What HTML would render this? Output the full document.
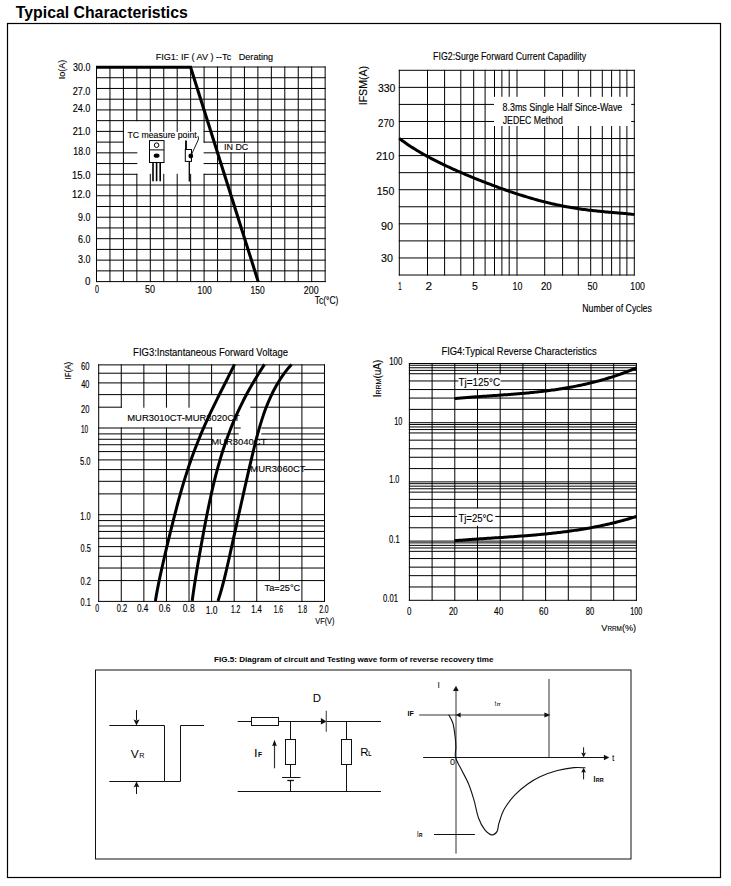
<!DOCTYPE html>
<html><head><meta charset="utf-8"><style>
html,body{margin:0;padding:0;background:#fff;width:731px;height:886px;overflow:hidden}
svg{display:block;font-family:"Liberation Sans",sans-serif}
</style></head><body>
<svg width="731" height="886" viewBox="0 0 731 886">
<rect width="731" height="886" fill="#fff"/>
<text transform="translate(15.82,17.80) scale(0.9888,1)" font-size="16" font-weight="bold" fill="#000" style="white-space:pre">Typical Characteristics</text>
<rect x="7.50" y="23.50" width="713.00" height="854.00" fill="none" stroke="#000" stroke-width="1.2"/>
<line x1="96.00" y1="67.00" x2="325.65" y2="67.00" stroke="#000" stroke-width="1"/>
<line x1="96.00" y1="77.73" x2="325.65" y2="77.73" stroke="#000" stroke-width="1"/>
<line x1="96.00" y1="88.46" x2="325.65" y2="88.46" stroke="#000" stroke-width="1"/>
<line x1="96.00" y1="99.19" x2="325.65" y2="99.19" stroke="#000" stroke-width="1"/>
<line x1="96.00" y1="109.92" x2="325.65" y2="109.92" stroke="#000" stroke-width="1"/>
<line x1="96.00" y1="120.65" x2="325.65" y2="120.65" stroke="#000" stroke-width="1"/>
<line x1="96.00" y1="131.38" x2="123.90" y2="131.38" stroke="#000" stroke-width="1"/>
<line x1="203.60" y1="131.38" x2="325.65" y2="131.38" stroke="#000" stroke-width="1"/>
<line x1="96.00" y1="142.11" x2="123.90" y2="142.11" stroke="#000" stroke-width="1"/>
<line x1="203.60" y1="142.11" x2="325.65" y2="142.11" stroke="#000" stroke-width="1"/>
<line x1="96.00" y1="152.84" x2="137.35" y2="152.84" stroke="#000" stroke-width="1"/>
<line x1="203.60" y1="152.84" x2="325.65" y2="152.84" stroke="#000" stroke-width="1"/>
<line x1="96.00" y1="163.57" x2="137.35" y2="163.57" stroke="#000" stroke-width="1"/>
<line x1="203.60" y1="163.57" x2="325.65" y2="163.57" stroke="#000" stroke-width="1"/>
<line x1="96.00" y1="174.30" x2="137.35" y2="174.30" stroke="#000" stroke-width="1"/>
<line x1="203.60" y1="174.30" x2="325.65" y2="174.30" stroke="#000" stroke-width="1"/>
<line x1="96.00" y1="185.03" x2="325.65" y2="185.03" stroke="#000" stroke-width="1"/>
<line x1="96.00" y1="195.76" x2="325.65" y2="195.76" stroke="#000" stroke-width="1"/>
<line x1="96.00" y1="206.49" x2="325.65" y2="206.49" stroke="#000" stroke-width="1"/>
<line x1="96.00" y1="217.22" x2="325.65" y2="217.22" stroke="#000" stroke-width="1"/>
<line x1="96.00" y1="227.95" x2="325.65" y2="227.95" stroke="#000" stroke-width="1"/>
<line x1="96.00" y1="238.68" x2="325.65" y2="238.68" stroke="#000" stroke-width="1"/>
<line x1="96.00" y1="249.41" x2="325.65" y2="249.41" stroke="#000" stroke-width="1"/>
<line x1="96.00" y1="260.14" x2="325.65" y2="260.14" stroke="#000" stroke-width="1"/>
<line x1="96.00" y1="270.87" x2="325.65" y2="270.87" stroke="#000" stroke-width="1"/>
<line x1="96.00" y1="281.60" x2="325.65" y2="281.60" stroke="#000" stroke-width="1"/>
<line x1="96.50" y1="66.50" x2="96.50" y2="282.10" stroke="#000" stroke-width="1"/>
<line x1="109.95" y1="66.50" x2="109.95" y2="282.10" stroke="#000" stroke-width="1"/>
<line x1="123.40" y1="66.50" x2="123.40" y2="282.10" stroke="#000" stroke-width="1"/>
<line x1="136.85" y1="66.50" x2="136.85" y2="121.15" stroke="#000" stroke-width="1"/>
<line x1="136.85" y1="173.80" x2="136.85" y2="282.10" stroke="#000" stroke-width="1"/>
<line x1="150.30" y1="66.50" x2="150.30" y2="131.88" stroke="#000" stroke-width="1"/>
<line x1="150.30" y1="173.80" x2="150.30" y2="282.10" stroke="#000" stroke-width="1"/>
<line x1="163.75" y1="66.50" x2="163.75" y2="131.88" stroke="#000" stroke-width="1"/>
<line x1="163.75" y1="173.80" x2="163.75" y2="282.10" stroke="#000" stroke-width="1"/>
<line x1="177.20" y1="66.50" x2="177.20" y2="131.88" stroke="#000" stroke-width="1"/>
<line x1="177.20" y1="173.80" x2="177.20" y2="282.10" stroke="#000" stroke-width="1"/>
<line x1="190.65" y1="66.50" x2="190.65" y2="131.88" stroke="#000" stroke-width="1"/>
<line x1="190.65" y1="173.80" x2="190.65" y2="282.10" stroke="#000" stroke-width="1"/>
<line x1="204.10" y1="66.50" x2="204.10" y2="142.61" stroke="#000" stroke-width="1"/>
<line x1="204.10" y1="173.80" x2="204.10" y2="282.10" stroke="#000" stroke-width="1"/>
<line x1="217.55" y1="66.50" x2="217.55" y2="282.10" stroke="#000" stroke-width="1"/>
<line x1="231.00" y1="66.50" x2="231.00" y2="142.61" stroke="#000" stroke-width="1"/>
<line x1="231.00" y1="152.34" x2="231.00" y2="282.10" stroke="#000" stroke-width="1"/>
<line x1="244.45" y1="66.50" x2="244.45" y2="142.61" stroke="#000" stroke-width="1"/>
<line x1="244.45" y1="152.34" x2="244.45" y2="282.10" stroke="#000" stroke-width="1"/>
<line x1="257.90" y1="66.50" x2="257.90" y2="282.10" stroke="#000" stroke-width="1"/>
<line x1="271.35" y1="66.50" x2="271.35" y2="282.10" stroke="#000" stroke-width="1"/>
<line x1="284.80" y1="66.50" x2="284.80" y2="282.10" stroke="#000" stroke-width="1"/>
<line x1="298.25" y1="66.50" x2="298.25" y2="282.10" stroke="#000" stroke-width="1"/>
<line x1="311.70" y1="66.50" x2="311.70" y2="282.10" stroke="#000" stroke-width="1"/>
<line x1="325.15" y1="66.50" x2="325.15" y2="282.10" stroke="#000" stroke-width="1"/>
<path d="M96.0,67.3 L190.6,67.3 L258.2,281.6" stroke="#000" stroke-width="3.1" fill="none" stroke-linejoin="miter"/>
<text transform="translate(155.65,59.70) scale(0.9777,1)" font-size="9.3" stroke="#000" stroke-width="0.123" fill="#000" style="white-space:pre">FIG1: IF ( AV ) --Tc   Derating</text>
<text transform="translate(73.06,71.30) scale(0.8591,1)" font-size="10.4" stroke="#000" stroke-width="0.140" fill="#000" style="white-space:pre">30.0</text>
<text transform="translate(72.64,94.70) scale(0.8803,1)" font-size="10.4" stroke="#000" stroke-width="0.136" fill="#000" style="white-space:pre">27.0</text>
<text transform="translate(72.64,112.40) scale(0.8803,1)" font-size="10.4" stroke="#000" stroke-width="0.136" fill="#000" style="white-space:pre">24.0</text>
<text transform="translate(72.64,134.70) scale(0.8803,1)" font-size="10.4" stroke="#000" stroke-width="0.136" fill="#000" style="white-space:pre">21.0</text>
<text transform="translate(73.33,155.35) scale(0.8455,1)" font-size="10.4" stroke="#000" stroke-width="0.142" fill="#000" style="white-space:pre">18.0</text>
<text transform="translate(71.98,178.60) scale(0.9137,1)" font-size="10.4" stroke="#000" stroke-width="0.131" fill="#000" style="white-space:pre">15.0</text>
<text transform="translate(71.98,198.40) scale(0.9137,1)" font-size="10.4" stroke="#000" stroke-width="0.131" fill="#000" style="white-space:pre">12.0</text>
<text transform="translate(78.08,220.60) scale(0.8552,1)" font-size="10.4" stroke="#000" stroke-width="0.140" fill="#000" style="white-space:pre">9.0</text>
<text transform="translate(78.05,243.10) scale(0.8578,1)" font-size="10.4" stroke="#000" stroke-width="0.140" fill="#000" style="white-space:pre">6.0</text>
<text transform="translate(77.96,262.60) scale(0.8641,1)" font-size="10.4" stroke="#000" stroke-width="0.139" fill="#000" style="white-space:pre">3.0</text>
<text transform="translate(85.02,284.50) scale(0.9454,1)" font-size="10.4" stroke="#000" stroke-width="0.127" fill="#000" style="white-space:pre">0</text>
<text transform="translate(95.12,292.70) scale(0.6839,1)" font-size="10.4" stroke="#000" stroke-width="0.175" fill="#000" style="white-space:pre">0</text>
<text transform="translate(145.04,292.70) scale(0.8655,1)" font-size="10.4" stroke="#000" stroke-width="0.139" fill="#000" style="white-space:pre">50</text>
<text transform="translate(197.45,293.70) scale(0.8172,1)" font-size="10.4" stroke="#000" stroke-width="0.147" fill="#000" style="white-space:pre">100</text>
<text transform="translate(250.56,293.70) scale(0.8110,1)" font-size="10.4" stroke="#000" stroke-width="0.148" fill="#000" style="white-space:pre">150</text>
<text transform="translate(303.85,294.10) scale(0.8525,1)" font-size="10.4" stroke="#000" stroke-width="0.141" fill="#000" style="white-space:pre">200</text>
<text transform="translate(314.71,304.00) scale(0.8165,1)" font-size="10.4" stroke="#000" stroke-width="0.147" fill="#000" style="white-space:pre">Tc(°C)</text>
<text transform="translate(64.90,79.33) rotate(-90) scale(0.9419,1)" font-size="9.6" stroke="#000" stroke-width="0.127" fill="#000">Io(A)</text>
<text transform="translate(127.50,137.60) scale(0.9683,1)" font-size="9.0" stroke="#000" stroke-width="0.124" fill="#000" style="white-space:pre">TC measure point</text>
<text transform="translate(223.97,150.10) scale(0.9730,1)" font-size="9.2" stroke="#000" stroke-width="0.123" fill="#000" style="white-space:pre">IN DC</text>
<rect x="149.50" y="140.60" width="14.50" height="21.90" fill="#fff" stroke="#000" stroke-width="1"/>
<line x1="149.50" y1="149.90" x2="164.00" y2="149.90" stroke="#000" stroke-width="1"/>
<circle cx="156.6" cy="145.2" r="2.3" fill="none" stroke="#000" stroke-width="1"/>
<ellipse cx="156.6" cy="155.7" rx="2.9" ry="2.1" fill="#000"/>
<line x1="153.00" y1="162.50" x2="153.00" y2="181.20" stroke="#000" stroke-width="1.6"/>
<line x1="156.60" y1="162.50" x2="156.60" y2="181.20" stroke="#000" stroke-width="1.6"/>
<line x1="160.20" y1="162.50" x2="160.20" y2="181.20" stroke="#000" stroke-width="1.6"/>
<line x1="186.00" y1="140.60" x2="186.00" y2="149.50" stroke="#000" stroke-width="1.8"/>
<rect x="185.30" y="149.50" width="6.20" height="11.90" fill="#fff" stroke="#000" stroke-width="1"/>
<circle cx="190.8" cy="156" r="2.4" fill="#000"/>
<line x1="189.30" y1="161.40" x2="189.30" y2="181.50" stroke="#000" stroke-width="1.3"/>
<path d="M190.8,156 L198.2,140.0 Q199,137.5 197.8,136.0" stroke="#000" stroke-width="0.9" fill="none"/>
<line x1="398.80" y1="70.30" x2="634.80" y2="70.30" stroke="#000" stroke-width="1"/>
<line x1="398.80" y1="87.36" x2="634.80" y2="87.36" stroke="#000" stroke-width="1"/>
<line x1="398.80" y1="104.42" x2="634.80" y2="104.42" stroke="#000" stroke-width="1"/>
<line x1="398.80" y1="121.48" x2="634.80" y2="121.48" stroke="#000" stroke-width="1"/>
<line x1="398.80" y1="138.54" x2="634.80" y2="138.54" stroke="#000" stroke-width="1"/>
<line x1="398.80" y1="155.60" x2="634.80" y2="155.60" stroke="#000" stroke-width="1"/>
<line x1="398.80" y1="172.66" x2="634.80" y2="172.66" stroke="#000" stroke-width="1"/>
<line x1="398.80" y1="189.72" x2="634.80" y2="189.72" stroke="#000" stroke-width="1"/>
<line x1="398.80" y1="206.78" x2="634.80" y2="206.78" stroke="#000" stroke-width="1"/>
<line x1="398.80" y1="223.84" x2="634.80" y2="223.84" stroke="#000" stroke-width="1"/>
<line x1="398.80" y1="240.90" x2="634.80" y2="240.90" stroke="#000" stroke-width="1"/>
<line x1="398.80" y1="257.96" x2="634.80" y2="257.96" stroke="#000" stroke-width="1"/>
<line x1="398.80" y1="275.02" x2="634.80" y2="275.02" stroke="#000" stroke-width="1"/>
<line x1="399.30" y1="69.80" x2="399.30" y2="275.52" stroke="#000" stroke-width="1"/>
<line x1="427.50" y1="69.80" x2="427.50" y2="275.52" stroke="#000" stroke-width="1"/>
<line x1="444.60" y1="69.80" x2="444.60" y2="275.52" stroke="#000" stroke-width="1"/>
<line x1="460.80" y1="69.80" x2="460.80" y2="275.52" stroke="#000" stroke-width="1"/>
<line x1="473.70" y1="69.80" x2="473.70" y2="275.52" stroke="#000" stroke-width="1"/>
<line x1="485.10" y1="69.80" x2="485.10" y2="275.52" stroke="#000" stroke-width="1"/>
<line x1="494.50" y1="69.80" x2="494.50" y2="275.52" stroke="#000" stroke-width="1"/>
<line x1="501.90" y1="69.80" x2="501.90" y2="275.52" stroke="#000" stroke-width="1"/>
<line x1="509.20" y1="69.80" x2="509.20" y2="275.52" stroke="#000" stroke-width="1"/>
<line x1="517.00" y1="69.80" x2="517.00" y2="275.52" stroke="#000" stroke-width="1"/>
<line x1="544.70" y1="69.80" x2="544.70" y2="275.52" stroke="#000" stroke-width="1"/>
<line x1="562.60" y1="69.80" x2="562.60" y2="275.52" stroke="#000" stroke-width="1"/>
<line x1="578.30" y1="69.80" x2="578.30" y2="275.52" stroke="#000" stroke-width="1"/>
<line x1="590.70" y1="69.80" x2="590.70" y2="275.52" stroke="#000" stroke-width="1"/>
<line x1="602.30" y1="69.80" x2="602.30" y2="275.52" stroke="#000" stroke-width="1"/>
<line x1="611.60" y1="69.80" x2="611.60" y2="275.52" stroke="#000" stroke-width="1"/>
<line x1="619.90" y1="69.80" x2="619.90" y2="275.52" stroke="#000" stroke-width="1"/>
<line x1="626.90" y1="69.80" x2="626.90" y2="275.52" stroke="#000" stroke-width="1"/>
<line x1="634.30" y1="69.80" x2="634.30" y2="275.52" stroke="#000" stroke-width="1"/>
<rect x="494.00" y="96.80" width="137.20" height="29.20" fill="#fff" stroke="none" stroke-width="1"/>
<text transform="translate(433.08,59.80) scale(0.8151,1)" font-size="10.8" stroke="#000" stroke-width="0.147" fill="#000" style="white-space:pre">FIG2:Surge Forward Current Capadility</text>
<text transform="translate(502.51,110.80) scale(0.8489,1)" font-size="10.5" stroke="#000" stroke-width="0.141" fill="#000" style="white-space:pre">8.3ms Single Half Since-Wave</text>
<text transform="translate(502.76,124.00) scale(0.8305,1)" font-size="10.5" stroke="#000" stroke-width="0.144" fill="#000" style="white-space:pre">JEDEC Method</text>
<path d="M399.30,138.47 L400.81,139.60 L402.32,140.71 L403.82,141.79 L405.33,142.85 L406.84,143.90 L408.35,144.92 L409.85,145.92 L411.36,146.90 L412.87,147.87 L414.38,148.82 L415.88,149.75 L417.39,150.67 L418.90,151.57 L420.41,152.46 L421.92,153.33 L423.42,154.19 L424.93,155.04 L426.44,155.87 L427.95,156.70 L429.45,157.51 L430.96,158.31 L432.47,159.10 L433.98,159.88 L435.48,160.65 L436.99,161.41 L438.50,162.16 L440.01,162.91 L441.52,163.64 L443.02,164.37 L444.53,165.09 L446.04,165.80 L447.55,166.51 L449.05,167.21 L450.56,167.90 L452.07,168.59 L453.58,169.27 L455.08,169.94 L456.59,170.61 L458.10,171.28 L459.61,171.94 L461.12,172.59 L462.62,173.24 L464.13,173.89 L465.64,174.53 L467.15,175.16 L468.65,175.79 L470.16,176.42 L471.67,177.04 L473.18,177.66 L474.68,178.28 L476.19,178.89 L477.70,179.49 L479.21,180.10 L480.72,180.69 L482.22,181.29 L483.73,181.88 L485.24,182.47 L486.75,183.05 L488.25,183.63 L489.76,184.20 L491.27,184.77 L492.78,185.34 L494.28,185.91 L495.79,186.46 L497.30,187.02 L498.81,187.57 L500.32,188.12 L501.82,188.66 L503.33,189.20 L504.84,189.73 L506.35,190.26 L507.85,190.78 L509.36,191.30 L510.87,191.82 L512.38,192.33 L513.88,192.84 L515.39,193.34 L516.90,193.83 L518.41,194.32 L519.92,194.81 L521.42,195.29 L522.93,195.76 L524.44,196.23 L525.95,196.69 L527.45,197.15 L528.96,197.60 L530.47,198.04 L531.98,198.48 L533.48,198.92 L534.99,199.34 L536.50,199.76 L538.01,200.18 L539.52,200.58 L541.02,200.98 L542.53,201.38 L544.04,201.77 L545.55,202.15 L547.05,202.52 L548.56,202.89 L550.07,203.25 L551.58,203.60 L553.08,203.95 L554.59,204.29 L556.10,204.62 L557.61,204.94 L559.12,205.26 L560.62,205.57 L562.13,205.88 L563.64,206.17 L565.15,206.46 L566.65,206.75 L568.16,207.02 L569.67,207.29 L571.18,207.55 L572.68,207.80 L574.19,208.05 L575.70,208.29 L577.21,208.53 L578.72,208.75 L580.22,208.97 L581.73,209.19 L583.24,209.40 L584.75,209.60 L586.25,209.79 L587.76,209.98 L589.27,210.17 L590.78,210.35 L592.28,210.52 L593.79,210.69 L595.30,210.85 L596.81,211.01 L598.32,211.17 L599.82,211.32 L601.33,211.47 L602.84,211.61 L604.35,211.75 L605.85,211.89 L607.36,212.03 L608.87,212.16 L610.38,212.29 L611.88,212.42 L613.39,212.55 L614.90,212.68 L616.41,212.81 L617.92,212.94 L619.42,213.07 L620.93,213.20 L622.44,213.34 L623.95,213.47 L625.45,213.61 L626.96,213.76 L628.47,213.91 L629.98,214.06 L631.48,214.22 L632.99,214.38 L634.50,214.55" stroke="#000" stroke-width="3" fill="none"/>
<text transform="translate(377.90,92.20) scale(0.9370,1)" font-size="11.2" stroke="#000" stroke-width="0.128" fill="#000" style="white-space:pre">330</text>
<text transform="translate(378.01,126.70) scale(0.8707,1)" font-size="11.2" stroke="#000" stroke-width="0.138" fill="#000" style="white-space:pre">270</text>
<text transform="translate(375.95,159.70) scale(0.9838,1)" font-size="11.2" stroke="#000" stroke-width="0.122" fill="#000" style="white-space:pre">210</text>
<text transform="translate(376.70,195.20) scale(0.9427,1)" font-size="11.2" stroke="#000" stroke-width="0.127" fill="#000" style="white-space:pre">150</text>
<text transform="translate(380.99,229.50) scale(0.9656,1)" font-size="11.2" stroke="#000" stroke-width="0.124" fill="#000" style="white-space:pre">90</text>
<text transform="translate(381.09,261.60) scale(0.9574,1)" font-size="11.2" stroke="#000" stroke-width="0.125" fill="#000" style="white-space:pre">30</text>
<text transform="translate(398.24,289.70) scale(0.5384,1)" font-size="11.2" stroke="#000" stroke-width="0.223" fill="#000" style="white-space:pre">1</text>
<text transform="translate(425.60,289.70) scale(1.0583,1)" font-size="11.2" stroke="#000" stroke-width="0.113" fill="#000" style="white-space:pre">2</text>
<text transform="translate(471.98,289.70) scale(0.9416,1)" font-size="11.2" stroke="#000" stroke-width="0.127" fill="#000" style="white-space:pre">5</text>
<text transform="translate(512.53,289.70) scale(0.7880,1)" font-size="11.2" stroke="#000" stroke-width="0.152" fill="#000" style="white-space:pre">10</text>
<text transform="translate(540.91,289.70) scale(0.8641,1)" font-size="11.2" stroke="#000" stroke-width="0.139" fill="#000" style="white-space:pre">20</text>
<text transform="translate(587.54,289.70) scale(0.8123,1)" font-size="11.2" stroke="#000" stroke-width="0.148" fill="#000" style="white-space:pre">50</text>
<text transform="translate(630.33,289.70) scale(0.7818,1)" font-size="11.2" stroke="#000" stroke-width="0.153" fill="#000" style="white-space:pre">100</text>
<text transform="translate(582.28,311.70) scale(0.8591,1)" font-size="10.2" stroke="#000" stroke-width="0.140" fill="#000" style="white-space:pre">Number of Cycles</text>
<text transform="translate(367.10,105.28) rotate(-90) scale(0.9607,1)" font-size="11" stroke="#000" stroke-width="0.125" fill="#000">IFSM(A)</text>
<line x1="98.20" y1="364.88" x2="325.00" y2="364.88" stroke="#000" stroke-width="1"/>
<line x1="98.20" y1="373.21" x2="325.00" y2="373.21" stroke="#000" stroke-width="1"/>
<line x1="98.20" y1="382.92" x2="325.00" y2="382.92" stroke="#000" stroke-width="1"/>
<line x1="98.20" y1="394.62" x2="325.00" y2="394.62" stroke="#000" stroke-width="1"/>
<line x1="98.20" y1="407.19" x2="121.78" y2="407.19" stroke="#000" stroke-width="1"/>
<line x1="250.30" y1="407.19" x2="325.00" y2="407.19" stroke="#000" stroke-width="1"/>
<line x1="98.20" y1="428.00" x2="212.10" y2="428.00" stroke="#000" stroke-width="1"/>
<line x1="234.00" y1="428.00" x2="240.70" y2="428.00" stroke="#000" stroke-width="1"/>
<line x1="261.30" y1="428.00" x2="325.00" y2="428.00" stroke="#000" stroke-width="1"/>
<line x1="98.20" y1="433.90" x2="238.80" y2="433.90" stroke="#000" stroke-width="1"/>
<line x1="261.30" y1="433.90" x2="325.00" y2="433.90" stroke="#000" stroke-width="1"/>
<line x1="98.20" y1="439.27" x2="212.20" y2="439.27" stroke="#000" stroke-width="1"/>
<line x1="256.50" y1="439.27" x2="325.00" y2="439.27" stroke="#000" stroke-width="1"/>
<line x1="98.20" y1="444.73" x2="212.20" y2="444.73" stroke="#000" stroke-width="1"/>
<line x1="256.50" y1="444.73" x2="325.00" y2="444.73" stroke="#000" stroke-width="1"/>
<line x1="98.20" y1="451.58" x2="325.00" y2="451.58" stroke="#000" stroke-width="1"/>
<line x1="98.20" y1="459.91" x2="325.00" y2="459.91" stroke="#000" stroke-width="1"/>
<line x1="98.20" y1="469.62" x2="250.50" y2="469.62" stroke="#000" stroke-width="1"/>
<line x1="304.00" y1="469.62" x2="325.00" y2="469.62" stroke="#000" stroke-width="1"/>
<line x1="98.20" y1="481.32" x2="325.00" y2="481.32" stroke="#000" stroke-width="1"/>
<line x1="98.20" y1="493.89" x2="325.00" y2="493.89" stroke="#000" stroke-width="1"/>
<line x1="98.20" y1="514.70" x2="325.00" y2="514.70" stroke="#000" stroke-width="1"/>
<line x1="98.20" y1="520.60" x2="325.00" y2="520.60" stroke="#000" stroke-width="1"/>
<line x1="98.20" y1="525.97" x2="325.00" y2="525.97" stroke="#000" stroke-width="1"/>
<line x1="98.20" y1="531.43" x2="325.00" y2="531.43" stroke="#000" stroke-width="1"/>
<line x1="98.20" y1="538.28" x2="325.00" y2="538.28" stroke="#000" stroke-width="1"/>
<line x1="98.20" y1="546.61" x2="325.00" y2="546.61" stroke="#000" stroke-width="1"/>
<line x1="98.20" y1="556.32" x2="325.00" y2="556.32" stroke="#000" stroke-width="1"/>
<line x1="98.20" y1="568.02" x2="325.00" y2="568.02" stroke="#000" stroke-width="1"/>
<line x1="98.20" y1="580.59" x2="325.00" y2="580.59" stroke="#000" stroke-width="1"/>
<line x1="98.20" y1="601.40" x2="325.00" y2="601.40" stroke="#000" stroke-width="1"/>
<line x1="98.70" y1="364.38" x2="98.70" y2="601.90" stroke="#000" stroke-width="1"/>
<line x1="121.28" y1="364.38" x2="121.28" y2="407.69" stroke="#000" stroke-width="1"/>
<line x1="121.28" y1="427.50" x2="121.28" y2="601.90" stroke="#000" stroke-width="1"/>
<line x1="143.86" y1="364.38" x2="143.86" y2="407.69" stroke="#000" stroke-width="1"/>
<line x1="143.86" y1="427.50" x2="143.86" y2="601.90" stroke="#000" stroke-width="1"/>
<line x1="166.44" y1="364.38" x2="166.44" y2="407.69" stroke="#000" stroke-width="1"/>
<line x1="166.44" y1="427.50" x2="166.44" y2="601.90" stroke="#000" stroke-width="1"/>
<line x1="189.02" y1="364.38" x2="189.02" y2="407.69" stroke="#000" stroke-width="1"/>
<line x1="189.02" y1="427.50" x2="189.02" y2="601.90" stroke="#000" stroke-width="1"/>
<line x1="211.60" y1="364.38" x2="211.60" y2="395.12" stroke="#000" stroke-width="1"/>
<line x1="211.60" y1="427.50" x2="211.60" y2="601.90" stroke="#000" stroke-width="1"/>
<line x1="234.18" y1="364.38" x2="234.18" y2="601.90" stroke="#000" stroke-width="1"/>
<line x1="256.76" y1="364.38" x2="256.76" y2="601.90" stroke="#000" stroke-width="1"/>
<line x1="279.34" y1="364.38" x2="279.34" y2="581.09" stroke="#000" stroke-width="1"/>
<line x1="301.92" y1="364.38" x2="301.92" y2="601.90" stroke="#000" stroke-width="1"/>
<line x1="324.50" y1="364.38" x2="324.50" y2="601.90" stroke="#000" stroke-width="1"/>
<path d="M234.48,364.40 L233.76,365.91 L233.02,367.41 L232.29,368.92 L231.54,370.43 L230.80,371.93 L230.05,373.44 L229.29,374.94 L228.54,376.45 L227.78,377.96 L227.02,379.46 L226.26,380.97 L225.50,382.48 L224.73,383.98 L223.97,385.49 L223.21,387.00 L222.45,388.50 L221.68,390.01 L220.92,391.51 L220.17,393.02 L219.41,394.53 L218.66,396.03 L217.90,397.54 L217.15,399.05 L216.41,400.55 L215.67,402.06 L214.93,403.57 L214.19,405.07 L213.46,406.58 L212.73,408.08 L212.01,409.59 L211.29,411.10 L210.57,412.60 L209.86,414.11 L209.16,415.62 L208.46,417.12 L207.77,418.63 L207.08,420.14 L206.39,421.64 L205.72,423.15 L205.04,424.65 L204.38,426.16 L203.72,427.67 L203.06,429.17 L202.41,430.68 L201.77,432.19 L201.13,433.69 L200.50,435.20 L199.88,436.71 L199.26,438.21 L198.65,439.72 L198.04,441.22 L197.44,442.73 L196.85,444.24 L196.26,445.74 L195.68,447.25 L195.10,448.76 L194.53,450.26 L193.97,451.77 L193.41,453.28 L192.86,454.78 L192.31,456.29 L191.77,457.79 L191.23,459.30 L190.71,460.81 L190.18,462.31 L189.66,463.82 L189.15,465.33 L188.65,466.83 L188.14,468.34 L187.65,469.85 L187.16,471.35 L186.67,472.86 L186.19,474.36 L185.71,475.87 L185.24,477.38 L184.77,478.88 L184.31,480.39 L183.85,481.90 L183.40,483.40 L182.95,484.91 L182.50,486.42 L182.06,487.92 L181.62,489.43 L181.19,490.94 L180.76,492.44 L180.33,493.95 L179.91,495.45 L179.49,496.96 L179.07,498.47 L178.66,499.97 L178.25,501.48 L177.84,502.99 L177.43,504.49 L177.03,506.00 L176.63,507.51 L176.24,509.01 L175.84,510.52 L175.45,512.02 L175.06,513.53 L174.67,515.04 L174.28,516.54 L173.90,518.05 L173.52,519.56 L173.14,521.06 L172.76,522.57 L172.38,524.08 L172.00,525.58 L171.63,527.09 L171.26,528.59 L170.88,530.10 L170.51,531.61 L170.14,533.11 L169.78,534.62 L169.41,536.13 L169.04,537.63 L168.68,539.14 L168.32,540.65 L167.95,542.15 L167.59,543.66 L167.23,545.16 L166.87,546.67 L166.52,548.18 L166.16,549.68 L165.80,551.19 L165.45,552.70 L165.10,554.20 L164.74,555.71 L164.39,557.22 L164.04,558.72 L163.70,560.23 L163.35,561.73 L163.01,563.24 L162.66,564.75 L162.32,566.25 L161.98,567.76 L161.65,569.27 L161.31,570.77 L160.98,572.28 L160.65,573.79 L160.32,575.29 L160.00,576.80 L159.68,578.30 L159.36,579.81 L159.05,581.32 L158.74,582.82 L158.43,584.33 L158.13,585.84 L157.83,587.34 L157.53,588.85 L157.25,590.36 L156.96,591.86 L156.69,593.37 L156.42,594.87 L156.15,596.38 L155.89,597.89 L155.64,599.39 L155.40,600.90" stroke="#000" stroke-width="3" fill="none"/>
<path d="M264.55,364.40 L263.56,365.91 L262.57,367.41 L261.60,368.92 L260.63,370.43 L259.67,371.93 L258.73,373.44 L257.79,374.94 L256.86,376.45 L255.94,377.96 L255.03,379.46 L254.14,380.97 L253.25,382.48 L252.37,383.98 L251.50,385.49 L250.64,387.00 L249.79,388.50 L248.95,390.01 L248.12,391.51 L247.30,393.02 L246.49,394.53 L245.69,396.03 L244.90,397.54 L244.12,399.05 L243.35,400.55 L242.59,402.06 L241.84,403.57 L241.10,405.07 L240.37,406.58 L239.64,408.08 L238.93,409.59 L238.23,411.10 L237.53,412.60 L236.85,414.11 L236.17,415.62 L235.50,417.12 L234.85,418.63 L234.20,420.14 L233.56,421.64 L232.93,423.15 L232.30,424.65 L231.69,426.16 L231.09,427.67 L230.49,429.17 L229.90,430.68 L229.32,432.19 L228.75,433.69 L228.19,435.20 L227.63,436.71 L227.08,438.21 L226.54,439.72 L226.01,441.22 L225.49,442.73 L224.97,444.24 L224.46,445.74 L223.96,447.25 L223.46,448.76 L222.97,450.26 L222.49,451.77 L222.02,453.28 L221.55,454.78 L221.09,456.29 L220.63,457.79 L220.18,459.30 L219.74,460.81 L219.30,462.31 L218.87,463.82 L218.45,465.33 L218.03,466.83 L217.61,468.34 L217.20,469.85 L216.80,471.35 L216.40,472.86 L216.01,474.36 L215.62,475.87 L215.24,477.38 L214.86,478.88 L214.49,480.39 L214.12,481.90 L213.75,483.40 L213.39,484.91 L213.03,486.42 L212.68,487.92 L212.33,489.43 L211.98,490.94 L211.64,492.44 L211.30,493.95 L210.97,495.45 L210.64,496.96 L210.31,498.47 L209.98,499.97 L209.66,501.48 L209.34,502.99 L209.02,504.49 L208.71,506.00 L208.40,507.51 L208.09,509.01 L207.78,510.52 L207.48,512.02 L207.17,513.53 L206.87,515.04 L206.58,516.54 L206.28,518.05 L205.98,519.56 L205.69,521.06 L205.40,522.57 L205.11,524.08 L204.82,525.58 L204.54,527.09 L204.25,528.59 L203.97,530.10 L203.69,531.61 L203.41,533.11 L203.13,534.62 L202.85,536.13 L202.57,537.63 L202.30,539.14 L202.02,540.65 L201.75,542.15 L201.47,543.66 L201.20,545.16 L200.93,546.67 L200.66,548.18 L200.40,549.68 L200.13,551.19 L199.86,552.70 L199.60,554.20 L199.33,555.71 L199.07,557.22 L198.81,558.72 L198.55,560.23 L198.29,561.73 L198.03,563.24 L197.77,564.75 L197.52,566.25 L197.26,567.76 L197.01,569.27 L196.76,570.77 L196.51,572.28 L196.26,573.79 L196.01,575.29 L195.77,576.80 L195.53,578.30 L195.28,579.81 L195.05,581.32 L194.81,582.82 L194.58,584.33 L194.35,585.84 L194.12,587.34 L193.89,588.85 L193.67,590.36 L193.45,591.86 L193.23,593.37 L193.02,594.87 L192.81,596.38 L192.61,597.89 L192.40,599.39 L192.21,600.90" stroke="#000" stroke-width="3" fill="none"/>
<path d="M291.49,364.40 L290.18,365.91 L288.91,367.41 L287.69,368.92 L286.49,370.43 L285.34,371.93 L284.22,373.44 L283.14,374.94 L282.09,376.45 L281.07,377.96 L280.08,379.46 L279.12,380.97 L278.19,382.48 L277.29,383.98 L276.42,385.49 L275.57,387.00 L274.75,388.50 L273.95,390.01 L273.17,391.51 L272.41,393.02 L271.68,394.53 L270.97,396.03 L270.28,397.54 L269.60,399.05 L268.94,400.55 L268.31,402.06 L267.68,403.57 L267.08,405.07 L266.48,406.58 L265.91,408.08 L265.34,409.59 L264.79,411.10 L264.26,412.60 L263.73,414.11 L263.22,415.62 L262.72,417.12 L262.22,418.63 L261.74,420.14 L261.27,421.64 L260.80,423.15 L260.35,424.65 L259.90,426.16 L259.46,427.67 L259.02,429.17 L258.60,430.68 L258.18,432.19 L257.76,433.69 L257.35,435.20 L256.95,436.71 L256.55,438.21 L256.16,439.72 L255.77,441.22 L255.38,442.73 L255.00,444.24 L254.62,445.74 L254.25,447.25 L253.88,448.76 L253.51,450.26 L253.14,451.77 L252.78,453.28 L252.41,454.78 L252.05,456.29 L251.70,457.79 L251.34,459.30 L250.99,460.81 L250.63,462.31 L250.28,463.82 L249.93,465.33 L249.58,466.83 L249.23,468.34 L248.88,469.85 L248.54,471.35 L248.19,472.86 L247.85,474.36 L247.50,475.87 L247.16,477.38 L246.81,478.88 L246.47,480.39 L246.13,481.90 L245.79,483.40 L245.44,484.91 L245.10,486.42 L244.76,487.92 L244.42,489.43 L244.08,490.94 L243.74,492.44 L243.40,493.95 L243.06,495.45 L242.72,496.96 L242.38,498.47 L242.04,499.97 L241.70,501.48 L241.36,502.99 L241.03,504.49 L240.69,506.00 L240.35,507.51 L240.01,509.01 L239.68,510.52 L239.34,512.02 L239.00,513.53 L238.67,515.04 L238.33,516.54 L238.00,518.05 L237.66,519.56 L237.33,521.06 L237.00,522.57 L236.66,524.08 L236.33,525.58 L236.00,527.09 L235.66,528.59 L235.33,530.10 L235.00,531.61 L234.67,533.11 L234.34,534.62 L234.00,536.13 L233.67,537.63 L233.34,539.14 L233.01,540.65 L232.68,542.15 L232.35,543.66 L232.02,545.16 L231.68,546.67 L231.35,548.18 L231.02,549.68 L230.69,551.19 L230.35,552.70 L230.02,554.20 L229.68,555.71 L229.34,557.22 L229.01,558.72 L228.67,560.23 L228.33,561.73 L227.98,563.24 L227.64,564.75 L227.29,566.25 L226.94,567.76 L226.59,569.27 L226.23,570.77 L225.87,572.28 L225.51,573.79 L225.15,575.29 L224.78,576.80 L224.40,578.30 L224.02,579.81 L223.64,581.32 L223.25,582.82 L222.86,584.33 L222.46,585.84 L222.05,587.34 L221.63,588.85 L221.21,590.36 L220.78,591.86 L220.35,593.37 L219.90,594.87 L219.44,596.38 L218.98,597.89 L218.50,599.39 L218.02,600.90" stroke="#000" stroke-width="3" fill="none"/>
<text transform="translate(133.12,356.00) scale(0.9489,1)" font-size="10" stroke="#000" stroke-width="0.126" fill="#000" style="white-space:pre">FIG3:Instantaneous Forward Voltage</text>
<text transform="translate(127.23,420.80) scale(1.0041,1)" font-size="9.4" stroke="#000" stroke-width="0.120" fill="#000" style="white-space:pre">MUR3010CT-MUR3020CT</text>
<text transform="translate(211.22,444.90) scale(1.0081,1)" font-size="9.4" stroke="#000" stroke-width="0.119" fill="#000" style="white-space:pre">MUR3040CT</text>
<text transform="translate(250.32,471.90) scale(1.0081,1)" font-size="9.4" stroke="#000" stroke-width="0.119" fill="#000" style="white-space:pre">MUR3060CT</text>
<text transform="translate(264.59,591.20) scale(0.9581,1)" font-size="9.6" stroke="#000" stroke-width="0.125" fill="#000" style="white-space:pre">Ta=25°C</text>
<text transform="translate(81.01,369.80) scale(0.7479,1)" font-size="10.2" stroke="#000" stroke-width="0.160" fill="#000" style="white-space:pre">60</text>
<text transform="translate(81.23,387.90) scale(0.7281,1)" font-size="10.2" stroke="#000" stroke-width="0.165" fill="#000" style="white-space:pre">40</text>
<text transform="translate(81.02,412.70) scale(0.7476,1)" font-size="10.2" stroke="#000" stroke-width="0.161" fill="#000" style="white-space:pre">20</text>
<text transform="translate(80.91,432.60) scale(0.6293,1)" font-size="10.2" stroke="#000" stroke-width="0.191" fill="#000" style="white-space:pre">10</text>
<text transform="translate(79.89,464.80) scale(0.7478,1)" font-size="10.2" stroke="#000" stroke-width="0.160" fill="#000" style="white-space:pre">5.0</text>
<text transform="translate(80.33,519.70) scale(0.7305,1)" font-size="10.2" stroke="#000" stroke-width="0.164" fill="#000" style="white-space:pre">1.0</text>
<text transform="translate(80.61,552.10) scale(0.7264,1)" font-size="10.2" stroke="#000" stroke-width="0.165" fill="#000" style="white-space:pre">0.5</text>
<text transform="translate(80.61,584.50) scale(0.7311,1)" font-size="10.2" stroke="#000" stroke-width="0.164" fill="#000" style="white-space:pre">0.2</text>
<text transform="translate(80.62,605.90) scale(0.7152,1)" font-size="10.2" stroke="#000" stroke-width="0.168" fill="#000" style="white-space:pre">0.1</text>
<text transform="translate(95.23,611.50) scale(0.6768,1)" font-size="10.2" stroke="#000" stroke-width="0.177" fill="#000" style="white-space:pre">0</text>
<text transform="translate(116.81,612.00) scale(0.7386,1)" font-size="10.2" stroke="#000" stroke-width="0.162" fill="#000" style="white-space:pre">0.2</text>
<text transform="translate(136.88,612.00) scale(0.8085,1)" font-size="10.2" stroke="#000" stroke-width="0.148" fill="#000" style="white-space:pre">0.4</text>
<text transform="translate(158.77,612.00) scale(0.8175,1)" font-size="10.2" stroke="#000" stroke-width="0.147" fill="#000" style="white-space:pre">0.6</text>
<text transform="translate(182.87,612.00) scale(0.8322,1)" font-size="10.2" stroke="#000" stroke-width="0.144" fill="#000" style="white-space:pre">0.8</text>
<text transform="translate(205.65,613.60) scale(0.8382,1)" font-size="10.2" stroke="#000" stroke-width="0.143" fill="#000" style="white-space:pre">1.0</text>
<text transform="translate(230.88,612.80) scale(0.6672,1)" font-size="10.2" stroke="#000" stroke-width="0.180" fill="#000" style="white-space:pre">1.2</text>
<text transform="translate(251.22,612.80) scale(0.7479,1)" font-size="10.2" stroke="#000" stroke-width="0.160" fill="#000" style="white-space:pre">1.4</text>
<text transform="translate(273.68,612.80) scale(0.6639,1)" font-size="10.2" stroke="#000" stroke-width="0.181" fill="#000" style="white-space:pre">1.6</text>
<text transform="translate(298.01,612.80) scale(0.6328,1)" font-size="10.2" stroke="#000" stroke-width="0.190" fill="#000" style="white-space:pre">1.8</text>
<text transform="translate(319.16,612.80) scale(0.6708,1)" font-size="10.2" stroke="#000" stroke-width="0.179" fill="#000" style="white-space:pre">2.0</text>
<text transform="translate(315.37,624.20) scale(0.7419,1)" font-size="9.8" stroke="#000" stroke-width="0.162" fill="#000" style="white-space:pre">VF(V)</text>
<text transform="translate(71.00,379.44) rotate(-90) scale(0.8144,1)" font-size="9.8" stroke="#000" stroke-width="0.147" fill="#000">IF(A)</text>
<line x1="408.90" y1="363.50" x2="636.90" y2="363.50" stroke="#000" stroke-width="1"/>
<line x1="408.90" y1="365.28" x2="636.90" y2="365.28" stroke="#000" stroke-width="1"/>
<line x1="408.90" y1="367.76" x2="636.90" y2="367.76" stroke="#000" stroke-width="1"/>
<line x1="408.90" y1="370.37" x2="636.90" y2="370.37" stroke="#000" stroke-width="1"/>
<line x1="408.90" y1="373.74" x2="636.90" y2="373.74" stroke="#000" stroke-width="1"/>
<line x1="408.90" y1="380.96" x2="458.40" y2="380.96" stroke="#000" stroke-width="1"/>
<line x1="500.50" y1="380.96" x2="636.90" y2="380.96" stroke="#000" stroke-width="1"/>
<line x1="408.90" y1="389.55" x2="636.90" y2="389.55" stroke="#000" stroke-width="1"/>
<line x1="408.90" y1="398.07" x2="636.90" y2="398.07" stroke="#000" stroke-width="1"/>
<line x1="408.90" y1="409.38" x2="636.90" y2="409.38" stroke="#000" stroke-width="1"/>
<line x1="408.90" y1="422.70" x2="636.90" y2="422.70" stroke="#000" stroke-width="1"/>
<line x1="408.90" y1="424.48" x2="636.90" y2="424.48" stroke="#000" stroke-width="1"/>
<line x1="408.90" y1="426.96" x2="636.90" y2="426.96" stroke="#000" stroke-width="1"/>
<line x1="408.90" y1="429.57" x2="636.90" y2="429.57" stroke="#000" stroke-width="1"/>
<line x1="408.90" y1="432.94" x2="636.90" y2="432.94" stroke="#000" stroke-width="1"/>
<line x1="408.90" y1="440.16" x2="636.90" y2="440.16" stroke="#000" stroke-width="1"/>
<line x1="408.90" y1="448.75" x2="636.90" y2="448.75" stroke="#000" stroke-width="1"/>
<line x1="408.90" y1="457.27" x2="636.90" y2="457.27" stroke="#000" stroke-width="1"/>
<line x1="408.90" y1="468.58" x2="636.90" y2="468.58" stroke="#000" stroke-width="1"/>
<line x1="408.90" y1="481.90" x2="636.90" y2="481.90" stroke="#000" stroke-width="1"/>
<line x1="408.90" y1="483.68" x2="636.90" y2="483.68" stroke="#000" stroke-width="1"/>
<line x1="408.90" y1="486.16" x2="636.90" y2="486.16" stroke="#000" stroke-width="1"/>
<line x1="408.90" y1="488.77" x2="636.90" y2="488.77" stroke="#000" stroke-width="1"/>
<line x1="408.90" y1="492.14" x2="636.90" y2="492.14" stroke="#000" stroke-width="1"/>
<line x1="408.90" y1="499.36" x2="636.90" y2="499.36" stroke="#000" stroke-width="1"/>
<line x1="408.90" y1="507.95" x2="636.90" y2="507.95" stroke="#000" stroke-width="1"/>
<line x1="408.90" y1="516.47" x2="457.00" y2="516.47" stroke="#000" stroke-width="1"/>
<line x1="495.30" y1="516.47" x2="636.90" y2="516.47" stroke="#000" stroke-width="1"/>
<line x1="408.90" y1="527.78" x2="636.90" y2="527.78" stroke="#000" stroke-width="1"/>
<line x1="408.90" y1="541.10" x2="636.90" y2="541.10" stroke="#000" stroke-width="1"/>
<line x1="408.90" y1="542.88" x2="636.90" y2="542.88" stroke="#000" stroke-width="1"/>
<line x1="408.90" y1="545.36" x2="636.90" y2="545.36" stroke="#000" stroke-width="1"/>
<line x1="408.90" y1="547.97" x2="636.90" y2="547.97" stroke="#000" stroke-width="1"/>
<line x1="408.90" y1="551.34" x2="636.90" y2="551.34" stroke="#000" stroke-width="1"/>
<line x1="408.90" y1="558.56" x2="636.90" y2="558.56" stroke="#000" stroke-width="1"/>
<line x1="408.90" y1="567.15" x2="636.90" y2="567.15" stroke="#000" stroke-width="1"/>
<line x1="408.90" y1="575.67" x2="636.90" y2="575.67" stroke="#000" stroke-width="1"/>
<line x1="408.90" y1="586.98" x2="636.90" y2="586.98" stroke="#000" stroke-width="1"/>
<line x1="408.90" y1="600.30" x2="636.90" y2="600.30" stroke="#000" stroke-width="1"/>
<line x1="409.40" y1="363.00" x2="409.40" y2="600.80" stroke="#000" stroke-width="1"/>
<line x1="432.10" y1="363.00" x2="432.10" y2="600.80" stroke="#000" stroke-width="1"/>
<line x1="454.80" y1="363.00" x2="454.80" y2="600.80" stroke="#000" stroke-width="1"/>
<line x1="477.50" y1="363.00" x2="477.50" y2="374.24" stroke="#000" stroke-width="1"/>
<line x1="477.50" y1="389.05" x2="477.50" y2="508.45" stroke="#000" stroke-width="1"/>
<line x1="477.50" y1="525.78" x2="477.50" y2="600.80" stroke="#000" stroke-width="1"/>
<line x1="500.20" y1="363.00" x2="500.20" y2="374.24" stroke="#000" stroke-width="1"/>
<line x1="500.20" y1="389.05" x2="500.20" y2="600.80" stroke="#000" stroke-width="1"/>
<line x1="522.90" y1="363.00" x2="522.90" y2="600.80" stroke="#000" stroke-width="1"/>
<line x1="545.60" y1="363.00" x2="545.60" y2="600.80" stroke="#000" stroke-width="1"/>
<line x1="568.30" y1="363.00" x2="568.30" y2="600.80" stroke="#000" stroke-width="1"/>
<line x1="591.00" y1="363.00" x2="591.00" y2="600.80" stroke="#000" stroke-width="1"/>
<line x1="613.70" y1="363.00" x2="613.70" y2="600.80" stroke="#000" stroke-width="1"/>
<line x1="636.40" y1="363.00" x2="636.40" y2="600.80" stroke="#000" stroke-width="1"/>
<path d="M454.50,398.53 L456.00,398.40 L457.51,398.27 L459.01,398.14 L460.51,398.02 L462.02,397.89 L463.52,397.77 L465.02,397.65 L466.53,397.54 L468.03,397.42 L469.53,397.31 L471.04,397.20 L472.54,397.09 L474.04,396.98 L475.55,396.87 L477.05,396.76 L478.55,396.66 L480.06,396.55 L481.56,396.45 L483.06,396.34 L484.57,396.24 L486.07,396.13 L487.57,396.03 L489.08,395.93 L490.58,395.83 L492.08,395.72 L493.59,395.62 L495.09,395.51 L496.59,395.41 L498.10,395.30 L499.60,395.20 L501.10,395.09 L502.61,394.98 L504.11,394.87 L505.61,394.76 L507.12,394.65 L508.62,394.54 L510.12,394.43 L511.63,394.31 L513.13,394.19 L514.63,394.07 L516.14,393.95 L517.64,393.83 L519.14,393.70 L520.65,393.57 L522.15,393.44 L523.65,393.30 L525.16,393.17 L526.66,393.03 L528.16,392.89 L529.67,392.74 L531.17,392.59 L532.67,392.44 L534.18,392.28 L535.68,392.12 L537.18,391.96 L538.69,391.80 L540.19,391.63 L541.69,391.45 L543.20,391.27 L544.70,391.09 L546.20,390.90 L547.70,390.71 L549.21,390.52 L550.71,390.32 L552.21,390.11 L553.72,389.90 L555.22,389.69 L556.72,389.47 L558.23,389.24 L559.73,389.01 L561.23,388.78 L562.74,388.54 L564.24,388.29 L565.74,388.04 L567.25,387.78 L568.75,387.52 L570.25,387.25 L571.76,386.97 L573.26,386.69 L574.76,386.40 L576.27,386.10 L577.77,385.80 L579.27,385.49 L580.78,385.18 L582.28,384.86 L583.78,384.53 L585.29,384.19 L586.79,383.85 L588.29,383.50 L589.80,383.14 L591.30,382.78 L592.80,382.41 L594.31,382.03 L595.81,381.64 L597.31,381.24 L598.82,380.84 L600.32,380.43 L601.82,380.01 L603.33,379.58 L604.83,379.14 L606.33,378.70 L607.84,378.25 L609.34,377.78 L610.84,377.31 L612.35,376.83 L613.85,376.35 L615.35,375.85 L616.86,375.34 L618.36,374.83 L619.86,374.30 L621.37,373.77 L622.87,373.22 L624.37,372.67 L625.88,372.10 L627.38,371.53 L628.88,370.95 L630.39,370.36 L631.89,369.75 L633.39,369.14 L634.90,368.52 L636.40,367.88" stroke="#000" stroke-width="3" fill="none"/>
<path d="M454.50,540.74 L456.00,540.61 L457.51,540.49 L459.01,540.37 L460.51,540.25 L462.02,540.14 L463.52,540.02 L465.02,539.91 L466.53,539.80 L468.03,539.69 L469.53,539.58 L471.04,539.47 L472.54,539.37 L474.04,539.26 L475.55,539.16 L477.05,539.06 L478.55,538.95 L480.06,538.85 L481.56,538.75 L483.06,538.65 L484.57,538.55 L486.07,538.46 L487.57,538.36 L489.08,538.26 L490.58,538.16 L492.08,538.06 L493.59,537.97 L495.09,537.87 L496.59,537.77 L498.10,537.67 L499.60,537.57 L501.10,537.48 L502.61,537.38 L504.11,537.28 L505.61,537.18 L507.12,537.08 L508.62,536.97 L510.12,536.87 L511.63,536.77 L513.13,536.66 L514.63,536.56 L516.14,536.45 L517.64,536.34 L519.14,536.23 L520.65,536.12 L522.15,536.00 L523.65,535.89 L525.16,535.77 L526.66,535.65 L528.16,535.53 L529.67,535.41 L531.17,535.29 L532.67,535.16 L534.18,535.03 L535.68,534.90 L537.18,534.76 L538.69,534.63 L540.19,534.49 L541.69,534.35 L543.20,534.20 L544.70,534.06 L546.20,533.91 L547.70,533.75 L549.21,533.60 L550.71,533.44 L552.21,533.27 L553.72,533.11 L555.22,532.94 L556.72,532.77 L558.23,532.59 L559.73,532.41 L561.23,532.23 L562.74,532.04 L564.24,531.85 L565.74,531.65 L567.25,531.45 L568.75,531.25 L570.25,531.04 L571.76,530.83 L573.26,530.61 L574.76,530.39 L576.27,530.16 L577.77,529.93 L579.27,529.70 L580.78,529.46 L582.28,529.21 L583.78,528.96 L585.29,528.71 L586.79,528.45 L588.29,528.18 L589.80,527.91 L591.30,527.63 L592.80,527.35 L594.31,527.07 L595.81,526.77 L597.31,526.48 L598.82,526.17 L600.32,525.86 L601.82,525.55 L603.33,525.23 L604.83,524.90 L606.33,524.56 L607.84,524.22 L609.34,523.88 L610.84,523.52 L612.35,523.17 L613.85,522.80 L615.35,522.43 L616.86,522.05 L618.36,521.66 L619.86,521.27 L621.37,520.87 L622.87,520.46 L624.37,520.05 L625.88,519.63 L627.38,519.20 L628.88,518.76 L630.39,518.32 L631.89,517.87 L633.39,517.41 L634.90,516.95 L636.40,516.47" stroke="#000" stroke-width="3" fill="none"/>
<text transform="translate(441.43,355.30) scale(0.9415,1)" font-size="10" stroke="#000" stroke-width="0.127" fill="#000" style="white-space:pre">FIG4:Typical Reverse Characteristics</text>
<text transform="translate(458.38,385.80) scale(0.9959,1)" font-size="10" stroke="#000" stroke-width="0.120" fill="#000" style="white-space:pre">Tj=125°C</text>
<text transform="translate(458.39,522.40) scale(0.9552,1)" font-size="10" stroke="#000" stroke-width="0.126" fill="#000" style="white-space:pre">Tj=25°C</text>
<text transform="translate(389.20,365.40) scale(0.7764,1)" font-size="10.2" stroke="#000" stroke-width="0.155" fill="#000" style="white-space:pre">100</text>
<text transform="translate(394.24,424.70) scale(0.7178,1)" font-size="10.2" stroke="#000" stroke-width="0.167" fill="#000" style="white-space:pre">10</text>
<text transform="translate(389.24,483.20) scale(0.7152,1)" font-size="10.2" stroke="#000" stroke-width="0.168" fill="#000" style="white-space:pre">1.0</text>
<text transform="translate(389.10,542.50) scale(0.7453,1)" font-size="10.2" stroke="#000" stroke-width="0.161" fill="#000" style="white-space:pre">0.1</text>
<text transform="translate(383.10,601.70) scale(0.7491,1)" font-size="10.2" stroke="#000" stroke-width="0.160" fill="#000" style="white-space:pre">0.01</text>
<text transform="translate(406.99,614.50) scale(0.7793,1)" font-size="10.2" stroke="#000" stroke-width="0.154" fill="#000" style="white-space:pre">0</text>
<text transform="translate(448.90,614.50) scale(0.7763,1)" font-size="10.2" stroke="#000" stroke-width="0.155" fill="#000" style="white-space:pre">20</text>
<text transform="translate(494.11,614.50) scale(0.8121,1)" font-size="10.2" stroke="#000" stroke-width="0.148" fill="#000" style="white-space:pre">40</text>
<text transform="translate(538.97,614.50) scale(0.8246,1)" font-size="10.2" stroke="#000" stroke-width="0.146" fill="#000" style="white-space:pre">60</text>
<text transform="translate(585.87,614.50) scale(0.7426,1)" font-size="10.2" stroke="#000" stroke-width="0.162" fill="#000" style="white-space:pre">80</text>
<text transform="translate(630.35,614.50) scale(0.7069,1)" font-size="10.2" stroke="#000" stroke-width="0.170" fill="#000" style="white-space:pre">100</text>
<text transform="translate(601.3,631.0) scale(0.935,1)" font-size="9.8" stroke="#000" stroke-width="0.12">V<tspan font-size="6.8">RRM</tspan>(%)</text>
<text transform="translate(381.1,397.3) rotate(-90)" font-size="10" stroke="#000" stroke-width="0.12">I<tspan font-size="7">RRM</tspan>(uA)</text>
<text transform="translate(214.06,661.90) scale(1.0130,1)" font-size="8" font-weight="bold" fill="#000" style="white-space:pre">FIG.5: Diagram of circuit and Testing wave form of reverse recovery time</text>
<rect x="95.50" y="670.00" width="535.50" height="189.00" fill="none" stroke="#111" stroke-width="1"/>
<path d="M109.3,725.5 H164.5 V781.5 H180.5 V725.5 H204" stroke="#111" stroke-width="1" fill="none"/>
<line x1="109.30" y1="781.50" x2="164.50" y2="781.50" stroke="#111" stroke-width="1"/>
<line x1="136.50" y1="710.10" x2="136.50" y2="720.00" stroke="#111" stroke-width="1"/>
<path d="M133.6,719.6 Q136.5,721.2 139.5,719.6 L136.5,725.6 Z" stroke="#000" stroke-width="0" fill="#111"/>
<line x1="136.50" y1="786.00" x2="136.50" y2="794.00" stroke="#111" stroke-width="1"/>
<path d="M133.6,787.4 Q136.5,785.8 139.5,787.4 L136.5,781.4 Z" stroke="#000" stroke-width="0" fill="#111"/>
<text transform="translate(130.85,758.30) scale(1.0911,1)" font-size="11" fill="#000" style="white-space:pre">V</text>
<text transform="translate(139.21,758.30) scale(0.9053,1)" font-size="8" fill="#000" style="white-space:pre">R</text>
<line x1="237.70" y1="721.50" x2="381.00" y2="721.50" stroke="#111" stroke-width="1"/>
<line x1="237.70" y1="791.50" x2="381.00" y2="791.50" stroke="#111" stroke-width="1"/>
<rect x="251.50" y="717.50" width="27.00" height="8.00" fill="#fff" stroke="#111" stroke-width="1"/>
<line x1="290.50" y1="721.50" x2="290.50" y2="777.50" stroke="#111" stroke-width="1"/>
<line x1="290.50" y1="780.50" x2="290.50" y2="791.50" stroke="#111" stroke-width="1"/>
<rect x="285.50" y="739.50" width="10.00" height="25.00" fill="#fff" stroke="#111" stroke-width="1"/>
<line x1="282.10" y1="777.50" x2="300.50" y2="777.50" stroke="#111" stroke-width="1"/>
<line x1="287.30" y1="780.50" x2="293.90" y2="780.50" stroke="#111" stroke-width="1.3"/>
<path d="M320.9,718.1 L326.6,721.5 L320.9,724.6 Z" stroke="#000" stroke-width="0" fill="#111"/>
<line x1="326.30" y1="710.70" x2="326.30" y2="731.70" stroke="#555" stroke-width="1.2"/>
<line x1="346.50" y1="721.50" x2="346.50" y2="791.50" stroke="#111" stroke-width="1"/>
<rect x="341.50" y="739.50" width="10.00" height="25.00" fill="#fff" stroke="#111" stroke-width="1"/>
<line x1="274.50" y1="745.00" x2="274.50" y2="768.30" stroke="#333" stroke-width="1.2"/>
<path d="M272.2,746 Q274.5,745 276.8,746 L274.5,739.8 Z" stroke="#000" stroke-width="0" fill="#111"/>
<text transform="translate(312.66,702.30) scale(1.0437,1)" font-size="11" fill="#000" style="white-space:pre">D</text>
<text transform="translate(253.91,757.00) scale(1.1697,1)" font-size="11" fill="#000" style="white-space:pre">I</text>
<text transform="translate(257.95,757.00) scale(0.8936,1)" font-size="7.5" font-weight="bold" fill="#000" style="white-space:pre">F</text>
<text transform="translate(360.16,756.30) scale(1.0411,1)" font-size="11" fill="#000" style="white-space:pre">R</text>
<text transform="translate(368.35,756.30) scale(0.7015,1)" font-size="7.5" font-weight="bold" fill="#000" style="white-space:pre">L</text>
<line x1="456.00" y1="690.00" x2="456.00" y2="853.60" stroke="#333" stroke-width="1"/>
<path d="M453,691 L458.7,691 L456,685.7 Z" stroke="#000" stroke-width="0" fill="#111"/>
<line x1="423.10" y1="757.50" x2="605.00" y2="757.50" stroke="#111" stroke-width="1"/>
<path d="M603.9,754.8 L609.3,757.5 L603.9,760.3 Z" stroke="#000" stroke-width="0" fill="#111"/>
<line x1="419.20" y1="715.00" x2="549.00" y2="715.00" stroke="#333" stroke-width="1"/>
<path d="M456,715 L460.6,712.5 L460.6,717.5 Z" stroke="#000" stroke-width="0" fill="#111"/>
<path d="M550.5,715 L544.4,712.5 L544.4,717.5 Z" stroke="#000" stroke-width="0" fill="#111"/>
<line x1="549.00" y1="678.90" x2="549.00" y2="757.50" stroke="#333" stroke-width="1"/>
<line x1="434.00" y1="834.50" x2="474.90" y2="834.50" stroke="#111" stroke-width="1"/>
<path d="M448.70,714.70 C449.42,716.17 451.90,719.58 453.00,723.50 C454.10,727.42 454.82,734.25 455.30,738.20 C455.78,742.15 455.80,743.98 455.85,747.20 C455.90,750.42 454.64,753.70 455.60,757.50 C456.56,761.30 459.42,765.55 461.60,770.00 C463.78,774.45 466.63,779.17 468.70,784.20 C470.77,789.23 472.37,794.57 474.00,800.20 C475.63,805.83 476.72,813.10 478.50,818.00 C480.28,822.90 482.48,826.78 484.70,829.60 C486.92,832.42 489.73,834.60 491.80,834.90 C493.87,835.20 495.92,833.32 497.10,831.40 C498.28,829.48 497.70,827.12 498.90,823.40 C500.10,819.68 501.63,813.85 504.30,809.10 C506.97,804.35 511.05,799.05 514.90,794.90 C518.75,790.75 523.22,787.23 527.40,784.20 C531.58,781.17 535.00,778.98 540.00,776.70 C545.00,774.42 551.77,772.02 557.40,770.50 C563.03,768.98 569.13,768.05 573.80,767.60 C578.47,767.15 583.47,767.77 585.40,767.80" stroke="#111" stroke-width="1.1" fill="none"/>
<line x1="583.60" y1="747.30" x2="583.60" y2="753.00" stroke="#111" stroke-width="1"/>
<path d="M581.2,752.6 Q583.6,754 586,752.6 L583.6,757.6 Z" stroke="#000" stroke-width="0" fill="#111"/>
<line x1="583.60" y1="771.50" x2="583.60" y2="779.40" stroke="#111" stroke-width="1"/>
<path d="M581.2,772.6 Q583.6,771.4 586,772.6 L583.6,767.8 Z" stroke="#000" stroke-width="0" fill="#111"/>
<text x="437.60" y="688.00" font-size="8.5" fill="#000">I</text>
<text transform="translate(407.62,716.20) scale(1.0189,1)" font-size="7" font-weight="bold" fill="#000" style="white-space:pre">IF</text>
<text transform="translate(494.72,706.20) scale(0.7832,1)" font-size="7" fill="#000" style="white-space:pre">t</text>
<text transform="translate(496.91,706.20) scale(0.8892,1)" font-size="5" font-weight="bold" fill="#000" style="white-space:pre">rr</text>
<text transform="translate(612.07,761.00) scale(0.9572,1)" font-size="9" fill="#000" style="white-space:pre">t</text>
<text transform="translate(449.95,765.30) scale(1.0583,1)" font-size="8.5" fill="#000" style="white-space:pre">0</text>
<text transform="translate(593.54,781.90) scale(0.7714,1)" font-size="9" font-weight="bold" fill="#000" style="white-space:pre">I</text>
<text transform="translate(595.74,781.90) scale(0.9915,1)" font-size="5.5" font-weight="bold" fill="#000" style="white-space:pre">RR</text>
<text transform="translate(417.22,837.20) scale(0.4628,1)" font-size="9" font-weight="bold" fill="#000" style="white-space:pre">I</text>
<text transform="translate(418.97,837.20) scale(0.8879,1)" font-size="5.5" font-weight="bold" fill="#000" style="white-space:pre">R</text>
</svg>
</body></html>
